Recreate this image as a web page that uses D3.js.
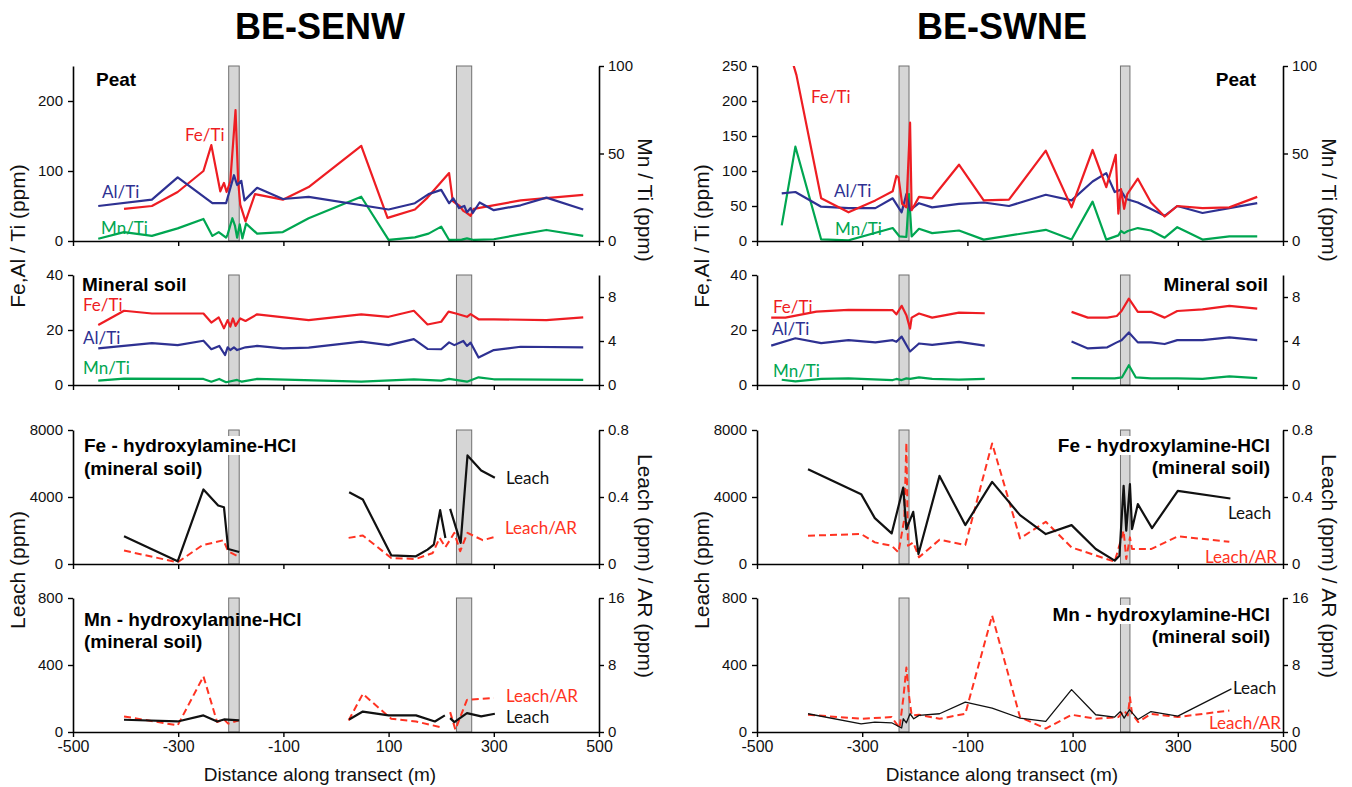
<!DOCTYPE html>
<html lang="en">
<head>
<meta charset="UTF-8" />
<title>BE-SENW / BE-SWNE transects</title>
<script src="https://cdn.jsdelivr.net/npm/d3@7"></script>
<style>
  body { margin: 0; background: #fff; }
  svg { display: block; }
</style>
</head>
<body>
<svg id="chart" width="1352" height="787"></svg>
<script>
// ---------- data: [distance (m), value] ; null = gap ----------
const distanceTicks = [-500, -300, -100, 100, 300, 500];

// BE-SENW
const senwBars = [[-204, -184], [229, 258]];
const senwPeatFe = [[-403,46],[-350,50],[-301,70],[-252,100],[-237,137],[-220,71],[-213,83],[-208,70],[-201,85],[-191,187],[-186,85],[-182,52],[-172,28],[-154,67],[-101,59],[-52,77],[48,136],[98,33],[150,45],[174,62],[215,97],[222,57],[235,50],[242,43],[249,40],[256,36],[262,46],[351,58],[470,66]];
const senwPeatAl = [[-452,50],[-350,59],[-301,91],[-235,54],[-209,54],[-194,94],[-188,80],[-180,86],[-174,58],[-150,76],[-101,60],[-52,63],[100,45],[150,54],[176,67],[200,73],[215,54],[223,61],[234,47],[244,50],[249,41],[256,47],[260,40],[273,55],[300,44],[351,51],[400,62],[470,45]];
const senwPeatMn = [[-452,1.3],[-403,5.1],[-350,2.9],[-301,7.2],[-252,12.6],[-235,2.9],[-223,5.1],[-209,1.9],[-206,3.8],[-197,13],[-192,8.6],[-188,1.9],[-183,9.5],[-178,1.5],[-171,9.9],[-150,4.2],[-101,5.1],[-52,13],[48,25.3],[100,0.6],[150,2.1],[176,4.2],[200,8.2],[215,0.6],[239,0.8],[249,1.5],[262,0.6],[300,1],[351,3.8],[400,6.3],[470,2.9]];
const senwSoilFe = [[-452,21.8],[-403,27],[-350,26],[-252,26],[-237,22.7],[-223,24.6],[-213,20.6],[-206,23.6],[-201,21.2],[-196,24.2],[-191,21.5],[-182,24.2],[-172,23.3],[-150,25.7],[-52,23.6],[48,25.7],[100,24.8],[148,27],[174,22],[200,23],[214,26.7],[228,26],[249,24.8],[256,25.8],[271,23.9],[300,23.9],[400,23.6],[470,24.6]];
const senwSoilAl = [[-452,13.3],[-350,15.2],[-301,14.5],[-252,16.1],[-237,13],[-222,14.2],[-211,10.9],[-206,13.7],[-201,12.7],[-194,13.7],[-188,12.7],[-172,13.7],[-150,14.2],[-101,13.3],[-52,13.6],[48,15.8],[100,14.5],[148,16.7],[174,13.1],[200,13],[215,15.5],[225,14.5],[242,16],[249,14.2],[256,15.4],[271,10],[300,12.7],[351,13.9],[470,13.7]];
const senwSoilMn = [[-452,0.4],[-403,0.58],[-252,0.55],[-237,0.3],[-222,0.55],[-209,0.25],[-188,0.46],[-179,0.3],[-150,0.55],[48,0.3],[148,0.52],[200,0.4],[215,0.55],[249,0.3],[271,0.7],[300,0.52],[470,0.46]];
const senwFeLeach = [[-403,1656],[-301,160],[-252,4449],[-224,3491],[-213,3391],[-205,898],[-184,718],null,[25,4289],[51,3850],[105,519],[152,459],[174,858],[186,1157],[198,3212],[208,1556],null,[217,3292],[237,1257],[250,6484],[276,5586],[302,5147]];
const senwFeAR = [[-403,0.08],[-301,0.01],[-254,0.112],[-214,0.142],[-205,0.076],[-184,0.042],null,[24,0.156],[51,0.17],[105,0.036],[152,0.03],[184,0.066],[197,0.156],[208,0.1],[225,0.186],[236,0.076],[250,0.186],[279,0.142],[302,0.162]];
const senwMnLeach = [[-403,73],[-301,63],[-252,99],[-226,63],[-213,75],[-184,69],null,[25,75],[51,122],[100,99],[152,99],[188,63],[207,99],null,[217,83],[225,59],[249,113],[276,93],[302,109]];
const senwMnAR = [[-403,1.86],[-301,0.79],[-252,6.64],[-226,1.19],[-213,1.5],[-205,1.0],[-186,1.38],null,[24,1.38],[51,4.55],[105,1.58],[152,1.26],[197,0.6],null,[217,2.37],[227,0.28],[249,3.83],[300,4.07]];

// BE-SWNE
const swneBars = [[-230, -211], [191, 209]];
const swnePeatFe = [[-440,275],[-425,237],[-378,61],[-326,41],[-275,58],[-242,71],[-235,93],[-231,91],[-224,53],[-216,48],[-209,169],[-206,44],[-192,63],[-167,61],[-116,109],[-69,58],[-21,59],[49,129],[98,48],[138,130],[164,77],[182,123],[187,39],[192,74],[198,46],[204,67],[224,89],[249,55],[275,35],[299,50],[347,47],[398,48],[451,63]];
const swnePeatAl = [[-453,68],[-427,70],[-378,49],[-326,47],[-275,47],[-242,61],[-225,41],[-216,67],[-209,44],[-192,54],[-167,48],[-116,53],[-69,55],[-21,50],[49,66],[98,58],[138,85],[164,97],[180,70],[191,73],[202,60],[224,55],[275,36],[299,50],[347,40],[398,47],[451,54]];
const swnePeatMn = [[-453,8.9],[-427,53.9],[-378,0.9],[-326,0.4],[-242,7.4],[-229,2.6],[-216,2.3],[-211,26.8],[-206,2.6],[-192,7],[-167,4.5],[-116,6],[-69,0.8],[49,6.4],[98,0.9],[138,22.5],[164,0.8],[187,3.2],[192,5.7],[198,4.5],[205,5.7],[224,7.4],[249,6],[275,1.9],[299,7.9],[347,0.8],[398,2.6],[451,2.6]];
const swneSoilFe = [[-473,24.5],[-446,24.5],[-387,26.7],[-326,27.3],[-242,27.2],[-235,25.7],[-225,28.8],[-216,25.4],[-209,20.5],[-206,24.5],[-192,26],[-167,24.5],[-116,26.3],[-67,26.1],null,[98,26.6],[129,24.5],[166,24.5],[184,25.1],[193,26.9],[207,31.4],[224,26.6],[249,26.6],[275,24.5],[299,26.9],[347,27.5],[398,28.8],[451,27.8]];
const swneSoilAl = [[-473,14.3],[-427,17],[-378,15.2],[-326,16.3],[-275,15.5],[-242,16.3],[-235,15.7],[-225,17.6],[-209,12.2],[-192,15.1],[-167,14.6],[-116,15.7],[-67,14.3],null,[98,15.8],[129,13.3],[166,13.7],[184,15.5],[193,16.3],[207,19.1],[224,15.5],[249,15.5],[275,14.9],[299,16.3],[347,16.3],[398,17.3],[451,16.3]];
const swneSoilMn = [[-453,0.48],[-427,0.33],[-378,0.55],[-326,0.6],[-242,0.45],[-235,0.55],[-225,0.45],[-216,0.6],[-209,0.55],[-192,0.7],[-167,0.55],[-116,0.48],[-67,0.55],null,[98,0.62],[180,0.6],[194,0.7],[207,1.8],[220,0.7],[249,0.6],[299,0.6],[347,0.55],[398,0.78],[451,0.62]];
const swneFeLeach = [[-403,5657],[-302,4169],[-276,2739],[-244,1826],[-222,4566],[-216,2084],[-203,3116],[-193,595],[-153,5260],[-104,2322],[-53,4903],[0,2918],[49,1787],[98,2322],[144,893],[180,198],[189,496],[197,4665],[202,1985],[209,4764],[213,2084],[224,3573],[251,2144],[300,4367],[400,3910]];
const swneFeAR = [[-403,0.169],[-302,0.179],[-276,0.129],[-244,0.109],[-231,0.069],[-220,0.268],[-216,0.725],[-213,0.109],[-203,0.129],[-192,0.04],[-153,0.145],[-104,0.113],[-53,0.72],[0,0.153],[49,0.252],[98,0.099],[180,0.014],[197,0.199],[202,0.03],[209,0.159],[213,0.089],[249,0.089],[300,0.165],[398,0.133]];
const swneMnLeach = [[-403,109],[-302,49],[-276,59],[-244,55],[-225,24],[-222,79],[-216,55],[-209,109],[-202,79],[-192,99],[-153,109],[-104,178],[-53,142],[0,83],[49,63],[98,253],[144,103],[180,89],[191,122],[198,83],[208,134],[224,75],[249,122],[300,95],[402,257]];
const swneMnAR = [[-403,2.06],[-302,1.58],[-244,1.78],[-229,0.47],[-222,3.95],[-216,7.7],[-211,4.35],[-206,1.98],[-192,2.06],[-153,1.58],[-104,2.17],[-53,13.9],[0,1.78],[49,0.4],[98,2.06],[144,1.58],[187,1.78],[198,2.57],[205,1.98],[209,4.15],[213,2.17],[225,1.19],[249,2.17],[300,1.78],[398,2.57]];

// ---------- styles ----------
const RED = "#ee1d23", BLUE = "#2e3192", GREEN = "#00a651", AR_RED = "#ff3322";
const ARIAL = "'Liberation Sans', Arial, sans-serif";
const LABEL_FONT = "Lato, 'Open Sans', sans-serif";
const plain = (d) => String(d);

const rows = [
  { top: 66, bottom: 241 },
  { top: 275, bottom: 385 },
  { top: 430, bottom: 564 },
  { top: 598, bottom: 732 }
];

const fe = (data) => ({ data, side: "left", color: RED, width: 2.2 });
const al = (data) => ({ data, side: "left", color: BLUE, width: 2.2 });
const mn = (data) => ({ data, side: "right", color: GREEN, width: 2.2 });
const leach = (data, w) => ({ data, side: "left", color: "#111", width: w });
const ratio = (data) => ({ data, side: "right", color: AR_RED, width: 2, dash: "7,4" });

const columns = [
  {
    name: "BE-SENW", x0: 73, x1: 599, titleX: 320, bars: senwBars,
    panels: [
      { left: [0, 250], leftTicks: [0, 100, 200], right: [0, 100], rightTicks: [0, 50, 100],
        series: [mn(senwPeatMn), fe(senwPeatFe), al(senwPeatAl)],
        labels: [
          { t: "Peat", dx: 23, dy: 20, bold: true },
          { t: "Fe/Ti", dx: 112, dy: 75, c: RED },
          { t: "Al/Ti", dx: 29, dy: 132, c: BLUE },
          { t: "Mn/Ti", dx: 28, dy: 168, c: GREEN }] },
      { left: [0, 40], leftTicks: [0, 20, 40], right: [0, 10], rightTicks: [0, 4, 8],
        series: [mn(senwSoilMn), al(senwSoilAl), fe(senwSoilFe)],
        labels: [
          { t: "Mineral soil", dx: 9, dy: 16, bold: true },
          { t: "Fe/Ti", dx: 10, dy: 36, c: RED },
          { t: "Al/Ti", dx: 10, dy: 69, c: BLUE },
          { t: "Mn/Ti", dx: 10, dy: 99, c: GREEN }] },
      { left: [0, 8000], leftTicks: [0, 4000, 8000], right: [0, 0.8], rightTicks: [0, 0.4, 0.8],
        series: [ratio(senwFeAR), leach(senwFeLeach, 2.2)],
        labels: [
          { t: "Fe - hydroxylamine-HCl", dx: 11, dy: 22, bold: true, bg: true },
          { t: "(mineral soil)", dx: 11, dy: 45, bold: true, bg: true },
          { t: "Leach", dx: 433, dy: 54, c: "#111" },
          { t: "Leach/AR", dx: 432, dy: 104, c: AR_RED }] },
      { left: [0, 800], leftTicks: [0, 400, 800], right: [0, 16], rightTicks: [0, 8, 16],
        series: [ratio(senwMnAR), leach(senwMnLeach, 2.2)],
        labels: [
          { t: "Mn - hydroxylamine-HCl", dx: 11, dy: 28, bold: true },
          { t: "(mineral soil)", dx: 11, dy: 50, bold: true },
          { t: "Leach/AR", dx: 433, dy: 104, c: AR_RED },
          { t: "Leach", dx: 433, dy: 125, c: "#111" }] }
    ]
  },
  {
    name: "BE-SWNE", x0: 757, x1: 1283, titleX: 1002, bars: swneBars,
    panels: [
      { left: [0, 250], leftTicks: [0, 50, 100, 150, 200, 250], right: [0, 100], rightTicks: [0, 50, 100],
        series: [mn(swnePeatMn), al(swnePeatAl), fe(swnePeatFe)],
        labels: [
          { t: "Peat", dx: 499, dy: 20, bold: true, end: true },
          { t: "Fe/Ti", dx: 54, dy: 37, c: RED },
          { t: "Al/Ti", dx: 77, dy: 131, c: BLUE },
          { t: "Mn/Ti", dx: 78, dy: 169, c: GREEN }] },
      { left: [0, 40], leftTicks: [0, 20, 40], right: [0, 10], rightTicks: [0, 4, 8],
        series: [mn(swneSoilMn), al(swneSoilAl), fe(swneSoilFe)],
        labels: [
          { t: "Mineral soil", dx: 511, dy: 16, bold: true, end: true },
          { t: "Fe/Ti", dx: 16, dy: 38, c: RED },
          { t: "Al/Ti", dx: 15, dy: 60, c: BLUE },
          { t: "Mn/Ti", dx: 16, dy: 102, c: GREEN }] },
      { left: [0, 8000], leftTicks: [0, 4000, 8000], right: [0, 0.8], rightTicks: [0, 0.4, 0.8],
        series: [ratio(swneFeAR), leach(swneFeLeach, 2.2)],
        labels: [
          { t: "Fe - hydroxylamine-HCl", dx: 513, dy: 22, bold: true, end: true, bg: true },
          { t: "(mineral soil)", dx: 513, dy: 44, bold: true, end: true, bg: true },
          { t: "Leach", dx: 471, dy: 89, c: "#111" },
          { t: "Leach/AR", dx: 448, dy: 133, c: AR_RED }] },
      { left: [0, 800], leftTicks: [0, 400, 800], right: [0, 16], rightTicks: [0, 8, 16],
        series: [ratio(swneMnAR), leach(swneMnLeach, 1.3)],
        labels: [
          { t: "Mn - hydroxylamine-HCl", dx: 513, dy: 23, bold: true, end: true, bg: true },
          { t: "(mineral soil)", dx: 513, dy: 45, bold: true, end: true, bg: true },
          { t: "Leach", dx: 476, dy: 96, c: "#111" },
          { t: "Leach/AR", dx: 452, dy: 131, c: AR_RED }] }
    ]
  }
];

const svg = d3.select("#chart");
const defs = svg.append("defs");

function styleAxis(g, size) {
  g.select(".domain").attr("stroke", "#000").attr("stroke-width", 1.6);
  g.selectAll(".tick line").attr("stroke", "#000").attr("stroke-width", 1.4);
  g.selectAll(".tick text").attr("font-family", ARIAL).attr("font-size", size).attr("fill", "#111");
}

columns.forEach((col, ci) => {
  const x = d3.scaleLinear().domain([-500, 500]).range([col.x0, col.x1]);

  svg.append("text")
    .attr("x", col.titleX).attr("y", 39)
    .attr("text-anchor", "middle")
    .attr("font-family", ARIAL).attr("font-weight", "bold").attr("font-size", 36)
    .text(col.name);

  col.panels.forEach((p, ri) => {
    const r = rows[ri];
    const yL = d3.scaleLinear().domain(p.left).range([r.bottom, r.top]);
    const yR = d3.scaleLinear().domain(p.right).range([r.bottom, r.top]);
    const g = svg.append("g");

    // grey transect bars
    g.selectAll("rect.bar").data(col.bars).join("rect")
      .attr("class", "bar")
      .attr("x", (d) => x(d[0])).attr("width", (d) => x(d[1]) - x(d[0]))
      .attr("y", r.top).attr("height", r.bottom - r.top)
      .attr("fill", "#d6d6d6").attr("stroke", "#707070").attr("stroke-width", 1);

    const clipId = `clip-${ci}-${ri}`;
    defs.append("clipPath").attr("id", clipId).append("rect")
      .attr("x", col.x0).attr("y", r.top).attr("width", col.x1 - col.x0).attr("height", r.bottom - r.top);

    const lines = g.append("g").attr("clip-path", `url(#${clipId})`);
    p.series.forEach((s) => {
      const y = s.side === "left" ? yL : yR;
      const line = d3.line()
        .defined((d) => d !== null)
        .x((d) => x(d[0])).y((d) => y(d[1]));
      lines.append("path")
        .attr("d", line(s.data))
        .attr("fill", "none")
        .attr("stroke", s.color)
        .attr("stroke-width", s.width)
        .attr("stroke-linejoin", "round")
        .attr("stroke-dasharray", s.dash || null);
    });

    // labels
    p.labels.forEach((l) => {
      const t = g.append("text")
        .attr("x", col.x0 + l.dx).attr("y", r.top + l.dy)
        .attr("text-anchor", l.end ? "end" : "start")
        .attr("font-family", l.bold ? ARIAL : LABEL_FONT)
        .attr("font-weight", l.bold ? "bold" : "normal")
        .attr("font-size", l.bold ? 19 : 17)
        .attr("fill", l.c || "#000")
        .text(l.t);
      if (l.bg) {
        const b = t.node().getBBox();
        g.insert("rect", () => t.node())
          .attr("x", b.x - 2).attr("y", b.y + 1).attr("width", b.width + 4).attr("height", b.height - 2)
          .attr("fill", "#fff");
      }
    });

    // axes
    const xAxis = d3.axisBottom(x).tickValues(distanceTicks).tickSize(5).tickSizeOuter(0).tickPadding(4)
      .tickFormat(ri < 3 ? "" : plain);
    svg.append("g").attr("transform", `translate(0,${r.bottom})`).call(xAxis).call((a) => styleAxis(a, 16));

    svg.append("g").attr("transform", `translate(${col.x0},0)`)
      .call(d3.axisLeft(yL).tickValues(p.leftTicks).tickFormat(plain).tickSize(5).tickSizeOuter(0).tickPadding(5))
      .call((a) => styleAxis(a, 15));
    svg.append("g").attr("transform", `translate(${col.x1},0)`)
      .call(d3.axisRight(yR).tickValues(p.rightTicks).tickFormat(plain).tickSize(5).tickSizeOuter(0).tickPadding(4))
      .call((a) => styleAxis(a, 15));
  });

  // axis titles
  const rotTitle = (tx, ty, angle, text) =>
    svg.append("text")
      .attr("transform", `translate(${tx},${ty}) rotate(${angle})`)
      .attr("text-anchor", "middle").attr("dy", "0.35em")
      .attr("font-family", ARIAL).attr("font-size", 21).attr("fill", "#111")
      .text(text);
  rotTitle(col.x0 - 55, 236, -90, "Fe,Al / Ti (ppm)");
  rotTitle(col.x0 - 55, 570, -90, "Leach (ppm)");
  rotTitle(col.x1 + 46, 200, 90, "Mn / Ti (ppm)");
  rotTitle(col.x1 + 46, 566, 90, "Leach (ppm) / AR (ppm)");

  svg.append("text")
    .attr("x", col.titleX).attr("y", 781)
    .attr("text-anchor", "middle")
    .attr("font-family", ARIAL).attr("font-size", 19).attr("fill", "#111")
    .text("Distance along transect (m)");
});
</script>
</body>
</html>
